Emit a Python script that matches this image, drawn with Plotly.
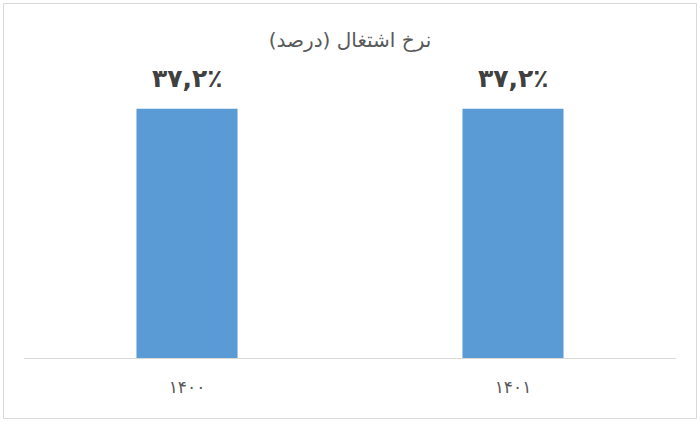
import plotly.graph_objects as go

categories = ["۱۴۰۰", "۱۴۰۱"]
values = [37.2, 37.2]
title_text = "نرخ اشتغال (درصد)"

PERSIAN = str.maketrans("0123456789.", "۰۱۲۳۴۵۶۷۸۹,")


def fa_label(v):
    return f"{v:.1f}".translate(PERSIAN) + "٪"


W, H = 700, 422
L, R, T, B = 24, 24, 90, 64
pw, ph = W - L - R, H - T - B

fig = go.Figure()
fig.add_trace(go.Bar(
    x=categories, y=values,
    marker=dict(color="#5B9BD5", line=dict(width=0)),
    hoverinfo="skip",
))

for c, v in zip(categories, values):
    fig.add_annotation(
        x=c, y=v, xref="x", yref="y",
        text=fa_label(v), showarrow=False,
        yanchor="bottom", yshift=14,
        font=dict(family="DejaVu Sans", size=25, color="#404040", weight="bold"),
    )


def px_x(px):
    return (px - L) / pw


def px_y(py):
    return (H - B - py) / ph


# chart border
fig.add_shape(type="rect", xref="paper", yref="paper",
              x0=px_x(3.5), x1=px_x(696.5), y0=px_y(418.5), y1=px_y(3.5),
              line=dict(color="#D9D9D9", width=1), layer="below")

fig.update_layout(
    width=W, height=H,
    margin=dict(l=L, r=R, t=T, b=B),
    paper_bgcolor="white", plot_bgcolor="white",
    bargap=0.69,
    showlegend=False,
    title=dict(text=title_text, x=0.5, xanchor="center", y=1 - 40 / H, yanchor="middle",
               font=dict(family="DejaVu Sans", size=20, color="#595959")),
    xaxis=dict(showgrid=False, zeroline=False, showline=True, linecolor="#D9D9D9", linewidth=1,
               ticks="", tickfont=dict(family="DejaVu Sans", size=17, color="#595959"),
               ticklabelstandoff=14, fixedrange=True),
    yaxis=dict(range=[0, 40], showgrid=False, zeroline=False, showline=False,
               showticklabels=False, ticks="", fixedrange=True),
)

fig.write_html("out.html", config={"displayModeBar": False},
               post_script="document.body.style.margin='0';document.body.style.overflow='hidden';")
